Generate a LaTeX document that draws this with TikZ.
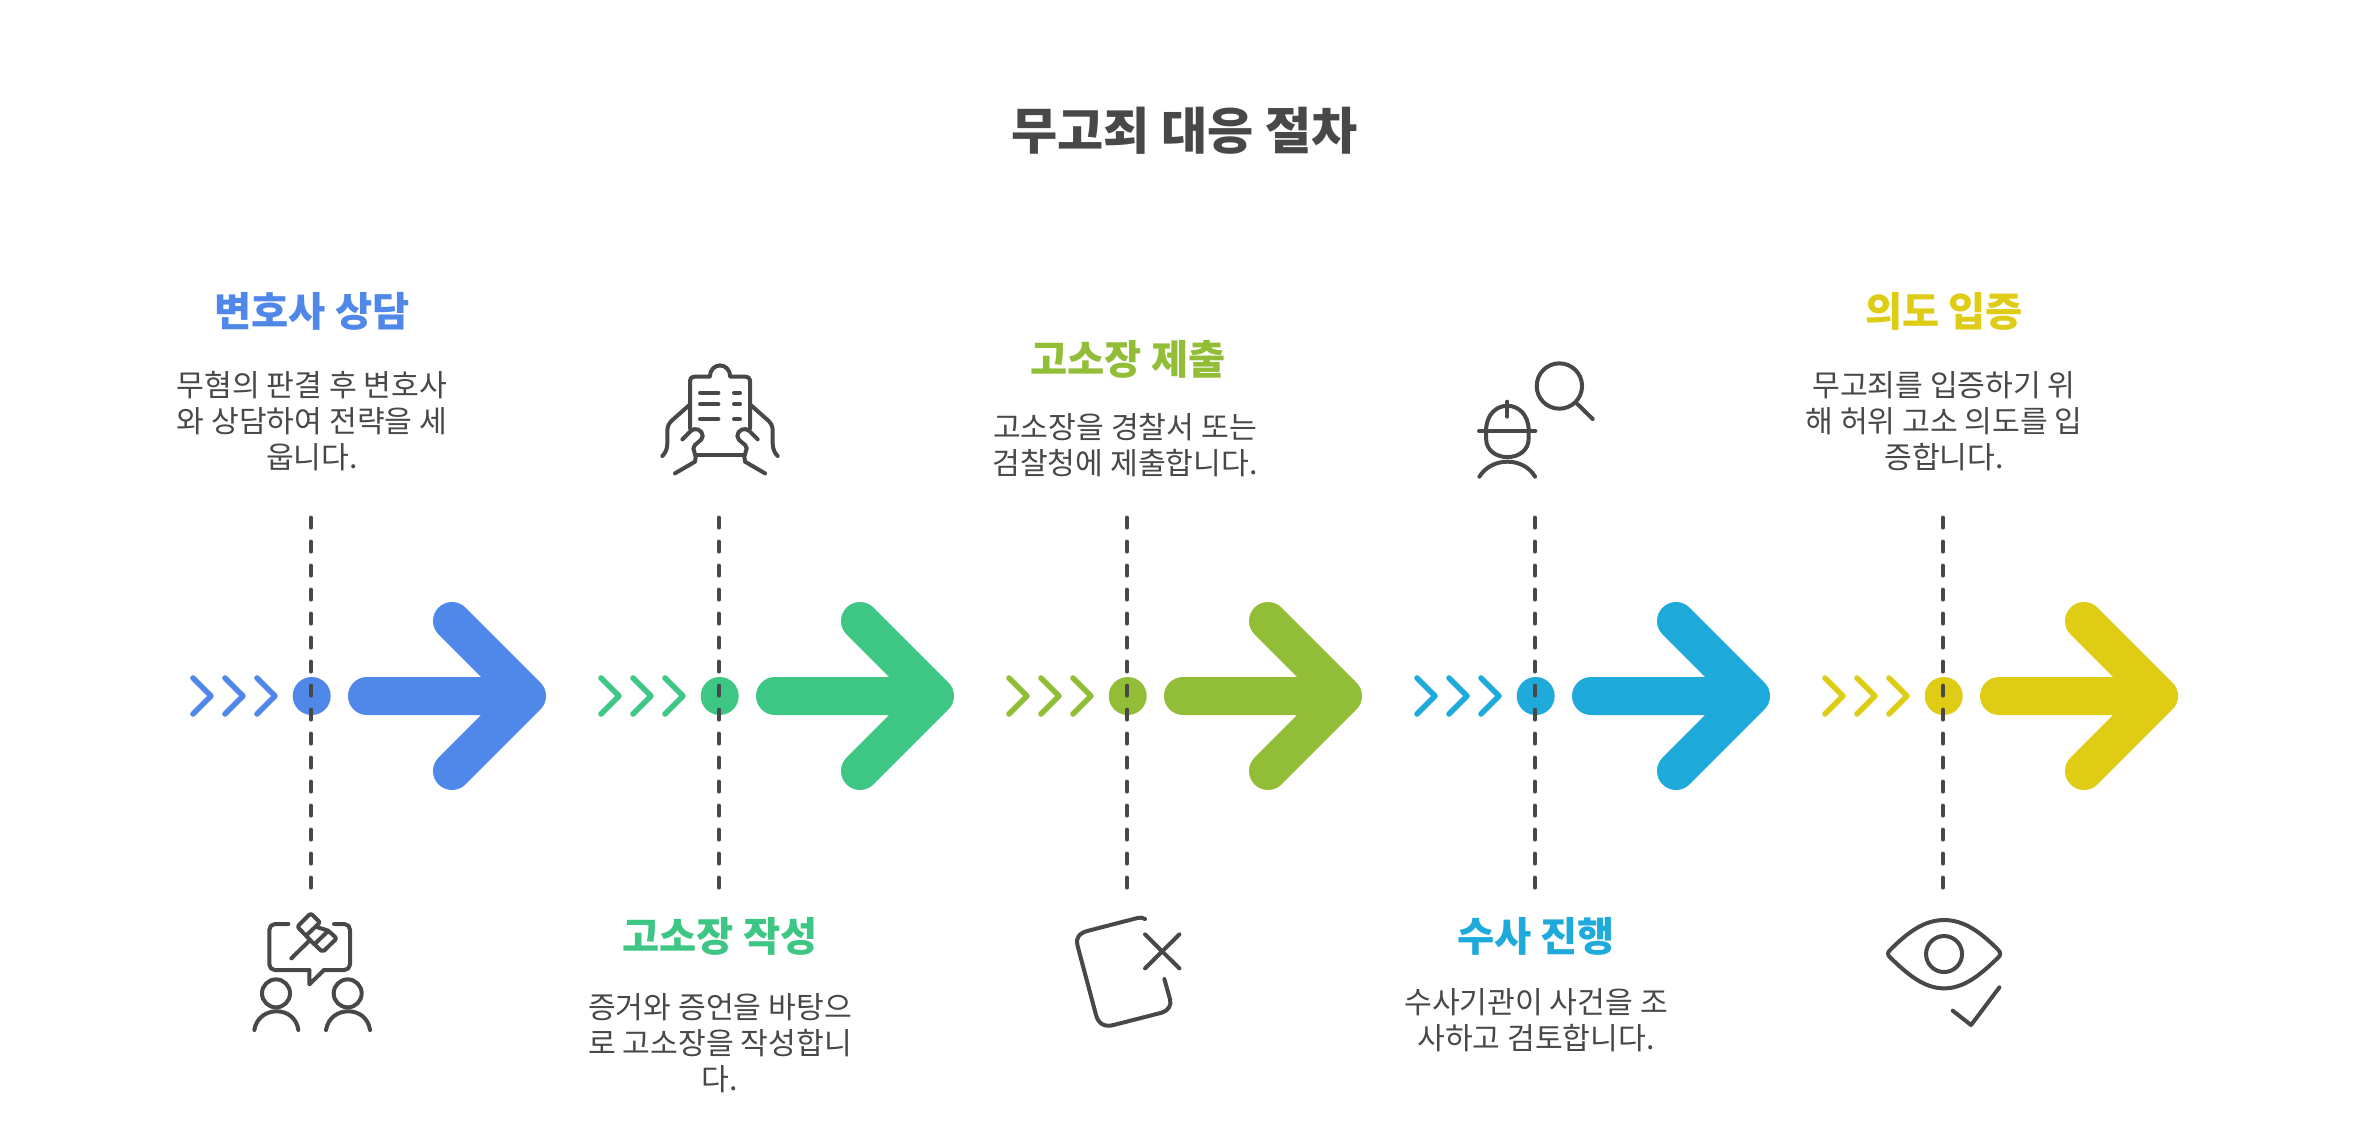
\documentclass[tikz,border=0pt]{standalone}
\usepackage{fontspec}
\setmainfont{Noto Sans CJK KR}
\definecolor{ink}{HTML}{484848}
\definecolor{cblue}{HTML}{4F88E8}
\definecolor{cgreen}{HTML}{3EC784}
\definecolor{colive}{HTML}{92BD36}
\definecolor{ccyan}{HTML}{1FAADC}
\definecolor{cyellow}{HTML}{DFCC14}
\tikzset{
  titletext/.style={text=ink,font=\fontsize{25.1}{29}\selectfont\bfseries,inner sep=0pt},
  headtext/.style={font=\fontsize{20.2}{24}\selectfont\bfseries,inner sep=0pt},
  bodytext/.style={text=ink,font=\fontsize{15.1}{18}\selectfont,align=center,inner sep=0pt},
  dashline/.style={draw=ink,line width=2.4pt,line cap=round,dash pattern=on 4.6pt off 7.4pt},
  bigarrow/.style={line width=19pt,line cap=round,line join=round},
  chev/.style={line width=2.8pt,line cap=round,line join=round},
  dotnode/.style={circle,minimum size=19pt,inner sep=0pt},
  iconline/.style={draw=ink,line width=2pt,line cap=round,line join=round},
  zoomicon/.style={x=0.16667pt,y=-0.16667pt,iconline},
}
\newcommand{\stage}[2]{%
  \begin{scope}[shift={(#1,696)}]
    \coordinate (top#1) at (0,-178);
    \coordinate (bot#1) at (0,194);
    \draw[#2,chev] (-118,-18) -- (-100,0) -- (-118,18);
    \draw[#2,chev] (-86,-18) -- (-68,0) -- (-86,18);
    \draw[#2,chev] (-54,-18) -- (-36,0) -- (-54,18);
    \node[dotnode,fill=#2] (dot#1) at (0.7,0) {};
    \draw[dashline] (top#1) -- (bot#1);
    \draw[#2,bigarrow] (56,0) -- (216,0) (141,-75) -- (216,0) -- (141,75);
  \end{scope}}
\begin{document}
\begin{tikzpicture}[x=0.5pt,y=-0.5pt]
\useasboundingbox[fill=white] (0,0) rectangle (2368,1141);
\node[titletext] (title) at (1184.5,131) {무고죄 대응 절차};

\stage{311}{cblue}
\stage{719}{cgreen}
\stage{1127}{colive}
\stage{1535}{ccyan}
\stage{1943}{cyellow}

\node[headtext,text=cblue] (h1) at (312,311.5) {변호사 상담};
\node[bodytext] (b1) at (312,421) {무혐의 판결 후 변호사\\와 상담하여 전략을 세\\웁니다.};
\node[headtext,text=cgreen] (h2) at (720,936.5) {고소장 작성};
\node[bodytext] (b2) at (720,1043) {증거와 증언을 바탕으\\로 고소장을 작성합니\\다.};
\node[headtext,text=colive] (h3) at (1128,359.5) {고소장 제출};
\node[bodytext] (b3) at (1125,445) {고소장을 경찰서 또는\\검찰청에 제출합니다.};
\node[headtext,text=ccyan] (h4) at (1536,936.5) {수사 진행};
\node[bodytext] (b4) at (1536,1020) {수사기관이 사건을 조\\사하고 검토합니다.};
\node[headtext,text=cyellow] (h5) at (1944,311.5) {의도 입증};
\node[bodytext] (b5) at (1944,421) {무고죄를 입증하기 위\\해 허위 고소 의도를 입\\증합니다.};

% gavel and two people
\begin{scope}[zoomicon,shift={(660,2640)}]
  \draw[rounded corners=2.8pt] (205,132) -- (148,132) -- (148,270) -- (268,270);
  \draw (268,270) -- (268,313) -- (312,270);
  \draw[rounded corners=2.8pt] (312,270) -- (390,270) -- (390,132) -- (342,132);
  \draw[rounded corners=1pt] (232,140) -- (272,100) -- (300,127) -- (258,167) -- cycle;
  \draw[rounded corners=1pt] (283,193) -- (325,152) -- (350,175) -- (308,216) -- cycle;
  \draw (287,140) -- (325,152) (258,167) -- (283,193);
  \draw (214,235) -- (270,180);
  \draw (168,340) circle[radius=42];
  \draw (383,340) circle[radius=42];
  \draw (103,450) .. controls (115,375) and (225,375) .. (235,450);
  \draw (318,450) .. controls (330,375) and (440,375) .. (450,450);
\end{scope}

% clipboard held in two hands
\begin{scope}[zoomicon,shift={(1890,1050)}]
  \draw (180,235) -- (180,95) .. controls (180,85) and (185,80) .. (195,80) -- (240,80) .. controls (240,35) and (300,35) .. (300,80) -- (345,80) .. controls (355,80) and (360,85) .. (360,95) -- (360,235);
  \draw (197,315) -- (343,315);
  \draw (210,128) -- (265,128) (210,163) -- (265,163) (210,207) -- (265,207);
  \draw (312,128) -- (330,128) (312,163) -- (330,163) (312,207) -- (330,207);
  \draw (178,165) -- (125,212) .. controls (115,222) and (112,230) .. (112,245) -- (112,280) .. controls (112,298) and (105,310) .. (97,318);
  \draw (362,165) -- (415,212) .. controls (425,222) and (428,230) .. (428,245) -- (428,280) .. controls (428,298) and (435,310) .. (443,318);
  \draw (157,268) -- (182,243) .. controls (195,230) and (218,240) .. (218,258) .. controls (218,275) and (190,280) .. (190,295) .. controls (190,305) and (197,310) .. (197,320) -- (195,335) -- (135,370);
  \draw (383,268) -- (358,243) .. controls (345,230) and (322,240) .. (322,258) .. controls (322,275) and (350,280) .. (350,295) .. controls (350,305) and (343,310) .. (343,320) -- (345,335) -- (405,370);
\end{scope}

% tilted sheet and cross
\begin{scope}[zoomicon,shift={(3150,2700)}]
  \draw (285,57) .. controls (278,52) and (272,52) .. (262,54) -- (115,92) .. controls (88,98) and (76,115) .. (82,135) -- (138,345) .. controls (145,372) and (165,382) .. (190,375) -- (335,338) .. controls (355,332) and (365,315) .. (360,298) -- (343,237);
  \draw (285,103) -- (388,205) (388,103) -- (285,205);
\end{scope}

% worker and magnifier
\begin{scope}[zoomicon,shift={(4380,1050)}]
  \draw (298,108) circle[radius=68];
  \draw (350,160) -- (398,207);
  \draw (142,155) -- (142,200);
  \draw (57,243) -- (226,243);
  \draw (78,243) .. controls (78,142) and (206,142) .. (206,243);
  \draw (78,243) -- (78,265) .. controls (78,340) and (206,340) .. (206,265) -- (206,243);
  \draw (58,380) .. controls (95,320) and (190,320) .. (225,380);
\end{scope}

% eye and check mark
\begin{scope}[zoomicon,shift={(5610,2700)}]
  \draw (60,150) .. controls (110,100) and (160,60) .. (222,60) .. controls (285,60) and (335,100) .. (385,150) .. controls (392,157) and (392,165) .. (385,172) .. controls (335,220) and (285,265) .. (222,265) .. controls (160,265) and (110,220) .. (60,172) .. controls (52,165) and (52,157) .. (60,150) -- cycle;
  \draw (222,162) circle[radius=54];
  \draw (248,332) -- (303,375) -- (388,262);
\end{scope}
\end{tikzpicture}
\end{document}
